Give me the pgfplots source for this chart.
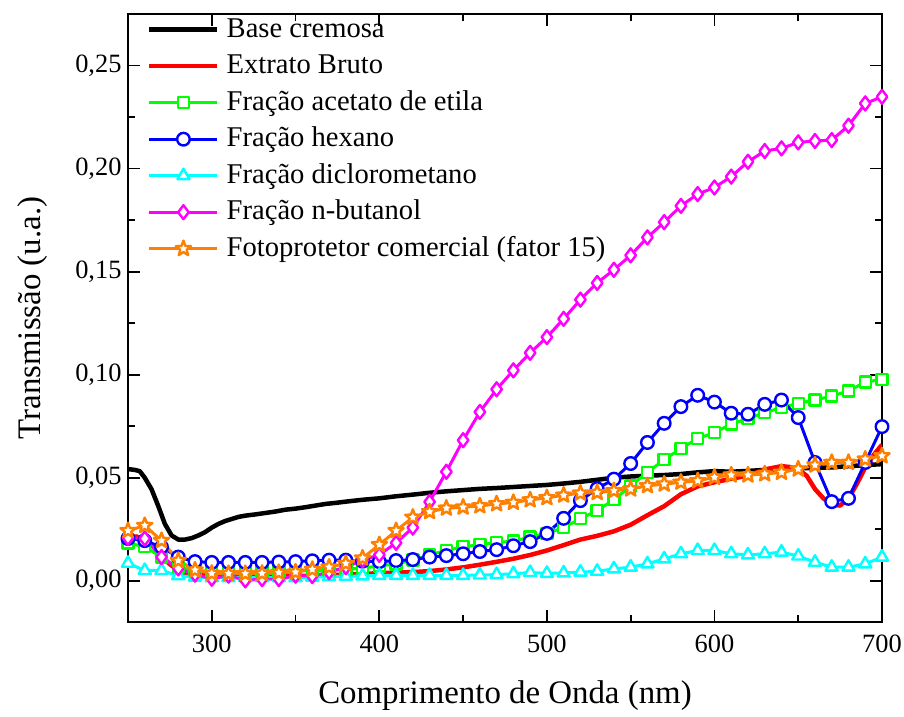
\documentclass[border=0pt]{standalone}
\usepackage{fontspec}
\setmainfont{Liberation Serif}
\usepackage{pgfplots}
\pgfplotsset{compat=1.18}

\definecolor{cRed}{RGB}{255,0,0}
\definecolor{cGreen}{RGB}{0,255,0}
\definecolor{cBlue}{RGB}{0,0,255}
\definecolor{cCyan}{RGB}{0,255,255}
\definecolor{cMagenta}{RGB}{255,0,255}
\definecolor{cOrange}{RGB}{255,128,0}

% five-pointed star marker
\pgfdeclareplotmark{fivestar}{%
  \pgfpathmoveto{\pgfpointpolar{90}{\pgfplotmarksize}}%
  \pgfpathlineto{\pgfpointpolar{126}{0.42*\pgfplotmarksize}}%
  \pgfpathlineto{\pgfpointpolar{162}{\pgfplotmarksize}}%
  \pgfpathlineto{\pgfpointpolar{198}{0.42*\pgfplotmarksize}}%
  \pgfpathlineto{\pgfpointpolar{234}{\pgfplotmarksize}}%
  \pgfpathlineto{\pgfpointpolar{270}{0.42*\pgfplotmarksize}}%
  \pgfpathlineto{\pgfpointpolar{306}{\pgfplotmarksize}}%
  \pgfpathlineto{\pgfpointpolar{342}{0.42*\pgfplotmarksize}}%
  \pgfpathlineto{\pgfpointpolar{18}{\pgfplotmarksize}}%
  \pgfpathlineto{\pgfpointpolar{54}{0.42*\pgfplotmarksize}}%
  \pgfpathclose
  \pgfusepathqfillstroke
}

\begin{document}
\begin{tikzpicture}
\begin{axis}[
  name=ax, at={(0,0)}, anchor=south west,
  scale only axis, width=754bp, height=608bp,
  xmin=250, xmax=700, ymin=-0.02, ymax=0.275,
  xtick={300,400,500,600,700},
  minor xtick={250,350,450,550,650},
  ytick={0,0.05,0.1,0.15,0.2,0.25},
  minor ytick={0.025,0.075,0.125,0.175,0.225},
  scaled y ticks=false,
  tick align=inside,
  major tick length=12bp, minor tick length=7bp,
  every tick/.style={line width=1.8bp, black},
  axis line style={line width=2.4bp},
  tick label style={font=\fontsize{26.5}{30}\selectfont},
  xticklabel={\textrm{\pgfmathprintnumber[assume math mode=true]{\tick}}},
  yticklabel={\textrm{\pgfmathprintnumber[assume math mode=true, fixed, fixed zerofill, precision=2, use comma]{\tick}}},
  yticklabel style={xshift=-3bp},
  xticklabel style={yshift=-9bp},
  label style={font=\fontsize{33}{38}\selectfont},
  xlabel={Comprimento de Onda (nm)},
  ylabel={Transmissão (u.a.)},
  xlabel style={at={(axis description cs:0.5,-0.121)}, anchor=center},
  ylabel style={at={(axis description cs:-0.127,0.5)}, anchor=center},
  legend cell align=left,
  legend image code/.code={%
    \draw[mark repeat=2,mark phase=2] plot coordinates {(0bp,0bp) (34bp,0bp) (68bp,0bp)};},
  legend style={at={(rel axis cs:0,1)}, anchor=north west,
    xshift=19bp, yshift=-2bp, draw=none, fill=none,
    inner sep=0pt, row sep=9.5bp,
    font=\fontsize{28.7}{34}\selectfont,
    nodes={inner sep=0pt, text height=21bp, text depth=6bp},
    /tikz/every odd column/.style={column sep=7bp}},
  every axis plot/.append style={line join=round},
  mark options={solid, fill=white, line width=2.4bp},
]

% Base cremosa
\addplot[black, line width=4.5bp] coordinates {
(250,0.0542) (254,0.0538) (257,0.0532) (260,0.0500) (264,0.0445) (268,0.0364)
(272,0.0276) (276,0.0220) (280,0.0200) (284,0.0200) (288,0.0207) (292,0.0220)
(296,0.0236) (300,0.0258) (304,0.0276) (308,0.0290) (312,0.0300) (316,0.0310)
(320,0.0316) (326,0.0322) (332,0.0329) (338,0.0336) (344,0.0345) (350,0.0350)
(356,0.0357) (362,0.0365) (368,0.0373) (374,0.0378) (380,0.0384) (390,0.0393)
(400,0.0400) (410,0.0410) (420,0.0418) (430,0.0427) (440,0.0434) (450,0.0440)
(460,0.0446) (470,0.0450) (480,0.0455) (490,0.0460) (500,0.0465) (510,0.0472)
(520,0.0480) (530,0.0490) (540,0.0500) (550,0.0506) (560,0.0510) (570,0.0513)
(580,0.0518) (590,0.0526) (600,0.0532) (610,0.0529) (620,0.0533) (630,0.0538)
(640,0.0541) (650,0.0545) (660,0.0548) (670,0.0550) (680,0.0556) (690,0.0561)
(700,0.0566)};
\addlegendentry{Base cremosa}

% Extrato Bruto
\addplot[cRed, line width=4.5bp] coordinates {
(250,0.0210) (255,0.0215) (260,0.0200) (265,0.0170) (270,0.0120) (275,0.0080)
(280,0.0050) (285,0.0035) (290,0.0030) (300,0.0025) (310,0.0022) (320,0.0020)
(330,0.0020) (340,0.0020) (350,0.0022) (360,0.0025) (370,0.0028) (380,0.0030)
(390,0.0033) (400,0.0037) (410,0.0040) (420,0.0042) (430,0.0047) (440,0.0055)
(450,0.0065) (460,0.0078) (470,0.0092) (480,0.0107) (490,0.0125) (500,0.0147)
(510,0.0173) (520,0.0200) (530,0.0218) (540,0.0240) (550,0.0272) (560,0.0318)
(570,0.0362) (580,0.0420) (590,0.0458) (600,0.0478) (610,0.0495) (620,0.0510)
(630,0.0540) (640,0.0556) (645,0.0552) (650,0.0540) (655,0.0510) (660,0.0445)
(665,0.0400) (670,0.0370) (675,0.0365) (680,0.0400) (685,0.0470) (690,0.0550)
(695,0.0610) (700,0.0660)};
\addlegendentry{Extrato Bruto}

% Fração acetato de etila
\addplot[cGreen, line width=3bp, mark=square*, mark size=5.5bp] coordinates {
(250,0.0183) (260,0.0165) (270,0.0115) (280,0.0065) (290,0.0050) (300,0.0045)
(310,0.0045) (320,0.0045) (330,0.0045) (340,0.0047) (350,0.0048) (360,0.0050)
(370,0.0052) (380,0.0056) (390,0.0062) (400,0.0072) (410,0.0082) (420,0.0100)
(430,0.0125) (440,0.0148) (450,0.0165) (460,0.0175) (470,0.0185) (480,0.0193)
(490,0.0212) (500,0.0229) (510,0.0259) (520,0.0301) (530,0.0341) (540,0.0393)
(550,0.0460) (560,0.0526) (570,0.0587) (580,0.0642) (590,0.0690) (600,0.0719)
(610,0.0760) (620,0.0787) (630,0.0816) (640,0.0840) (650,0.0861) (660,0.0877)
(670,0.0896) (680,0.0921) (690,0.0964) (700,0.0977)};
\addlegendentry{Fração acetato de etila}

% Fração hexano
\addplot[cBlue, line width=3bp, mark=*, mark size=6.3bp] coordinates {
(250,0.0205) (260,0.0195) (270,0.0163) (280,0.0115) (290,0.0093) (300,0.0089)
(310,0.0089) (320,0.0089) (330,0.0089) (340,0.0091) (350,0.0093) (360,0.0097)
(370,0.0100) (380,0.0100) (390,0.0095) (400,0.0093) (410,0.0098) (420,0.0103)
(430,0.0115) (440,0.0122) (450,0.0131) (460,0.0142) (470,0.0151) (480,0.0170)
(490,0.0190) (500,0.0230) (510,0.0303) (520,0.0389) (530,0.0447) (540,0.0493)
(550,0.0569) (560,0.0671) (570,0.0764) (580,0.0845) (590,0.0900) (600,0.0867)
(610,0.0813) (620,0.0808) (630,0.0856) (640,0.0877) (650,0.0792) (660,0.0574)
(670,0.0384) (680,0.0400) (690,0.0574) (700,0.0748)};
\addlegendentry{Fração hexano}

% Fração diclorometano
\addplot[cCyan, line width=3bp, mark=triangle*, mark size=7bp] coordinates {
(250,0.0085) (260,0.0050) (270,0.0050) (280,0.0025) (290,0.0018) (300,0.0015)
(310,0.0015) (320,0.0015) (330,0.0015) (340,0.0015) (350,0.0015) (360,0.0018)
(370,0.0020) (380,0.0022) (390,0.0024) (400,0.0026) (410,0.0026) (420,0.0026)
(430,0.0026) (440,0.0026) (450,0.0026) (460,0.0028) (470,0.0030) (480,0.0034)
(490,0.0040) (500,0.0036) (510,0.0038) (520,0.0042) (530,0.0046) (540,0.0058)
(550,0.0066) (560,0.0082) (570,0.0106) (580,0.0131) (590,0.0147) (600,0.0147)
(610,0.0131) (620,0.0126) (630,0.0131) (640,0.0139) (650,0.0120) (660,0.0090)
(670,0.0066) (680,0.0066) (690,0.0082) (700,0.0115)};
\addlegendentry{Fração diclorometano}

% Fração n-butanol
\addplot[cMagenta, line width=3bp, mark=diamond*, mark size=7bp] coordinates {
(250,0.0208) (260,0.0205) (270,0.0115) (280,0.0060) (290,0.0030) (300,0.0010)
(310,0.0025) (320,0.0002) (330,0.0008) (340,0.0008) (350,0.0025) (360,0.0023)
(370,0.0042) (380,0.0066) (390,0.0100) (400,0.0126) (410,0.0184) (420,0.0258)
(430,0.0383) (440,0.0529) (450,0.0682) (460,0.0819) (470,0.0929) (480,0.1021)
(490,0.1106) (500,0.1182) (510,0.1271) (520,0.1364) (530,0.1445) (540,0.1509)
(550,0.1579) (560,0.1666) (570,0.1740) (580,0.1819) (590,0.1876) (600,0.1908)
(610,0.1961) (620,0.2033) (630,0.2085) (640,0.2098) (650,0.2127) (660,0.2134)
(670,0.2138) (680,0.2208) (690,0.2316) (700,0.2348)};
\addlegendentry{Fração n-butanol}

% Fotoprotetor comercial (fator 15)
\addplot[cOrange, line width=3bp, mark=fivestar, mark size=8bp] coordinates {
(250,0.0243) (260,0.0268) (270,0.0195) (280,0.0098) (290,0.0052) (300,0.0036)
(310,0.0035) (320,0.0035) (330,0.0036) (340,0.0040) (350,0.0042) (360,0.0055)
(370,0.0066) (380,0.0084) (390,0.0110) (400,0.0175) (410,0.0243) (420,0.0308)
(430,0.0335) (440,0.0352) (450,0.0357) (460,0.0363) (470,0.0373) (480,0.0380)
(490,0.0392) (500,0.0403) (510,0.0415) (520,0.0425) (530,0.0428) (540,0.0437)
(550,0.0445) (560,0.0461) (570,0.0469) (580,0.0478) (590,0.0485) (600,0.0502)
(610,0.0513) (620,0.0513) (630,0.0518) (640,0.0526) (650,0.0542) (660,0.0561)
(670,0.0574) (680,0.0574) (690,0.0590) (700,0.0606)};
\addlegendentry{Fotoprotetor comercial (fator 15)}

\end{axis}
\pgfresetboundingbox
\path[use as bounding box] (-128bp,-95bp) rectangle (776bp,622bp);
\end{tikzpicture}
\end{document}
